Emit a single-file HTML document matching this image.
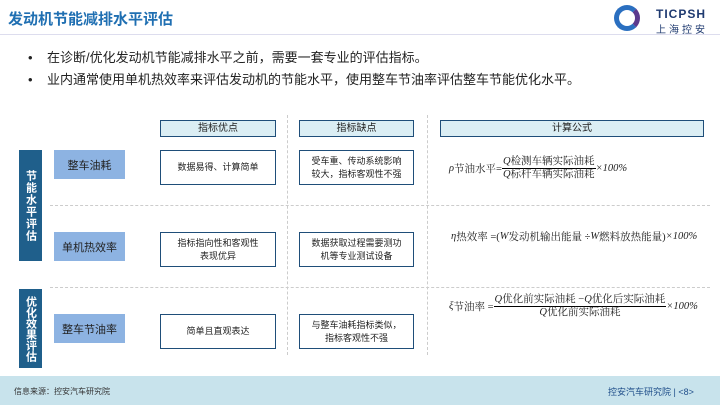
<!DOCTYPE html>
<html><head><meta charset="utf-8"><style>
body{margin:0;width:720px;height:405px;overflow:hidden;background:#fff;font-family:"Liberation Sans","Noto Sans CJK SC",sans-serif;position:relative;color:#222}
.a{position:absolute;box-sizing:border-box}
.hd{background:#dbeef4;border:1px solid #1f4e79;font-size:10px;text-align:center;line-height:15px}
.bx{border:1px solid #1f4e79;font-size:9px;text-align:center;display:flex;align-items:center;justify-content:center;line-height:13px}
.lb{background:#8db3e2;font-size:11px;display:flex;align-items:center;justify-content:center}
.vb{background:#1f5f8b;color:#fff;font-size:11px;writing-mode:vertical-rl;display:flex;align-items:center;justify-content:center;font-weight:bold;line-height:12px}
.hl{border-top:1px dashed #ccc;height:0}
.vl{border-left:1px dashed #ccc;width:0}
.f{font-size:10.5px;font-family:"Liberation Serif","Noto Serif CJK SC",serif;display:flex;align-items:center}
.fr{display:inline-flex;flex-direction:column;align-items:center;font-size:10.5px;line-height:12px}
.fr .n{border-bottom:1px solid #000;padding:0 1px}
i{font-style:italic}
</style></head><body>
<div class="a" style="left:8px;top:8px;font-size:15px;font-weight:bold;color:#1f6fb2">发动机节能减排水平评估</div>
<div class="a" style="left:0;top:34px;width:720px;border-top:1px solid #dde"></div>
<div class="a" style="left:614px;top:5px;width:26px;height:26px;border-radius:50%;border:5px solid #2a6fc0;border-right-color:#5b3a8e"></div>
<div class="a" style="left:656px;top:7px;font-size:12px;font-weight:bold;color:#1f3a70;letter-spacing:1px">TICPSH</div>
<div class="a" style="left:656px;top:21px;font-size:10px;color:#1f3a70;letter-spacing:3px">上海控安</div>
<div class="a" style="left:28px;top:47px;font-size:13px">•&nbsp;&nbsp;&nbsp;&nbsp;在诊断/优化发动机节能减排水平之前，需要一套专业的评估指标。</div>
<div class="a" style="left:28px;top:69px;font-size:13px">•&nbsp;&nbsp;&nbsp;&nbsp;业内通常使用单机热效率来评估发动机的节能水平，使用整车节油率评估整车节能优化水平。</div>

<div class="a vl" style="left:287px;top:115px;height:240px"></div>
<div class="a vl" style="left:427px;top:115px;height:240px"></div>
<div class="a hl" style="left:50px;top:205px;width:660px"></div>
<div class="a hl" style="left:50px;top:287px;width:660px"></div>

<div class="a hd" style="left:160px;top:120px;width:116px;height:17px">指标优点</div>
<div class="a hd" style="left:299px;top:120px;width:115px;height:17px">指标缺点</div>
<div class="a hd" style="left:440px;top:120px;width:264px;height:17px">计算公式</div>

<div class="a vb" style="left:19px;top:150px;width:23px;height:111px;letter-spacing:1px">节能水平评估</div>
<div class="a vb" style="left:19px;top:289px;width:23px;height:79px">优化效果评估</div>

<div class="a lb" style="left:54px;top:150px;width:71px;height:29px">整车油耗</div>
<div class="a lb" style="left:54px;top:232px;width:71px;height:29px">单机热效率</div>
<div class="a lb" style="left:54px;top:314px;width:71px;height:29px">整车节油率</div>

<div class="a bx" style="left:160px;top:150px;width:116px;height:35px">数据易得、计算简单</div>
<div class="a bx" style="left:160px;top:232px;width:116px;height:35px">指标指向性和客观性<br>表现优异</div>
<div class="a bx" style="left:160px;top:314px;width:116px;height:35px">简单且直观表达</div>
<div class="a bx" style="left:299px;top:150px;width:115px;height:35px">受车重、传动系统影响<br>较大，指标客观性不强</div>
<div class="a bx" style="left:299px;top:232px;width:115px;height:35px">数据获取过程需要测功<br>机等专业测试设备</div>
<div class="a bx" style="left:299px;top:314px;width:115px;height:35px">与整车油耗指标类似，<br>指标客观性不强</div>

<div class="a f" style="left:449px;top:156px"><i>ρ</i>节油水平=<span class="fr"><span class="n"><i>Q</i>检测车辆实际油耗</span><span><i>Q</i>标杆车辆实际油耗</span></span><i>×100%</i></div>
<div class="a f" style="left:451px;top:229px"><i>η</i>热效率 =(<i>W</i>发动机输出能量 ÷ <i>W</i>燃料放热能量)<i>×100%</i></div>
<div class="a f" style="left:449px;top:294px"><i>ξ</i>节油率 =<span class="fr"><span class="n"><i>Q</i>优化前实际油耗 −<i>Q</i>优化后实际油耗</span><span><i>Q</i>优化前实际油耗</span></span><i>×100%</i></div>

<div class="a" style="left:0;top:376px;width:720px;height:29px;background:#c8e3ec"></div>
<div class="a" style="left:14px;top:386px;font-size:8px;color:#333">信息来源：控安汽车研究院</div>
<div class="a" style="left:608px;top:385px;font-size:9px;color:#1f4e8a">控安汽车研究院 | &lt;8&gt;</div>
</body></html>
